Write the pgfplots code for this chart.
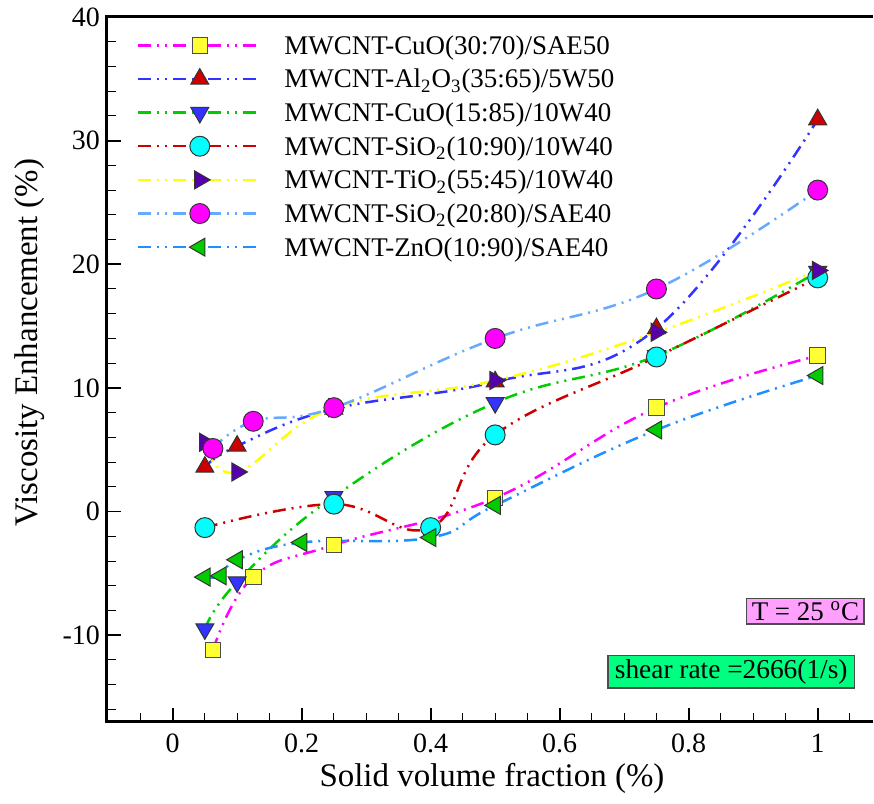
\documentclass[border=0pt]{standalone}
\usepackage{pgfplots}
\pgfplotsset{compat=1.18}
\usepackage{fontspec}
\setmainfont{Liberation Serif}

\definecolor{c1line}{RGB}{255,0,255}
\definecolor{c1mark}{RGB}{255,255,51}
\definecolor{c2line}{RGB}{51,51,255}
\definecolor{c2mark}{RGB}{204,0,0}
\definecolor{c3line}{RGB}{0,204,0}
\definecolor{c3mark}{RGB}{51,51,255}
\definecolor{c4line}{RGB}{204,0,0}
\definecolor{c4mark}{RGB}{0,255,255}
\definecolor{c5line}{RGB}{255,255,0}
\definecolor{c5mark}{RGB}{85,0,170}
\definecolor{c6line}{RGB}{102,170,255}
\definecolor{c6mark}{RGB}{255,0,255}
\definecolor{c7line}{RGB}{30,144,255}
\definecolor{c7mark}{RGB}{0,204,0}
\definecolor{boxpink}{RGB}{255,160,255}
\definecolor{boxgreen}{RGB}{0,255,128}

\tikzset{ddot/.style={dash pattern=on 6.5pt off 3pt on 1pt off 3pt on 1pt off 3pt, line width=1.25pt}}

\begin{document}
\begin{tikzpicture}
\begin{axis}[
  name=ax,
  scale only axis, width=383.5pt, height=353pt,
  xmin=-0.102, xmax=1.085, ymin=-17, ymax=40,
  axis line style={draw=none},
  xtick={0,0.2,0.4,0.6,0.8,1},
  ytick={-10,0,10,20,30,40},
  minor xtick={-0.05,0.05,0.1,0.15,0.25,0.3,0.35,0.45,0.5,0.55,0.65,0.7,0.75,0.85,0.9,0.95,1.05},
  minor ytick={-16,-14,-12,-8,-6,-4,-2,2,4,6,8,12,14,16,18,22,24,26,28,32,34,36,38},
  tick align=inside, xtick pos=left, ytick pos=left,
  major tick length=7pt, minor tick length=4.5pt,
  every major tick/.style={black, line width=0.9pt},
  every minor tick/.style={black, line width=0.5pt},
  tick label style={font=\fontsize{14}{16}\selectfont},
  /pgf/number format/assume math mode=true,
  xticklabel style={yshift=-2.5pt},
  xlabel={Solid volume fraction (\%)},
  ylabel={Viscosity Enhancement (\%)},
  every axis x label/.style={at={(axis description cs:0.503,0)}, anchor=center, yshift=-28.5pt, font=\fontsize{16.5}{18}\selectfont},
  every axis y label/.style={at={(axis description cs:0,0.538)}, anchor=center, rotate=90, yshift=38.5pt, font=\fontsize{16.5}{18}\selectfont},
  legend style={at={(0,1)}, anchor=north west, xshift=15pt, yshift=-7pt, draw=none, fill=none, inner sep=0pt,
    row sep=2.85pt, column sep=11pt, font=\fontsize{13.5}{15}\selectfont,
    nodes={inner sep=0pt, text height=11.5pt, text depth=2.5pt}},
  legend cell align=left,
  legend image code/.code={
    \path[draw=none, fill=none] (0pt,-6pt) rectangle (61.5pt,6pt);
    \draw[mark repeat=2,mark phase=2,#1] plot coordinates {(0pt,0pt) (30.75pt,0pt) (61.5pt,0pt)};},
  every axis plot/.append style={smooth, tension=0.7},
]
\addplot[ddot, c1line, mark=square*, mark size=3.9pt, mark options={solid, draw=black!70, line width=0.5pt, fill=c1mark}]
  coordinates {(0.0625,-11.2) (0.125,-5.3) (0.25,-2.7) (0.5,1.1) (0.75,8.4) (1,12.6)};
\addlegendentry{MWCNT-CuO(30:70)/SAE50}
\addplot[ddot, c2line, mark=triangle*, mark size=5.2pt, mark options={solid, draw=black!80, line width=0.5pt, fill=c2mark}]
  coordinates {(0.05,3.6) (0.1,5.3) (0.25,8.3) (0.5,10.5) (0.75,14.8) (1,31.7)};
\addlegendentry{MWCNT-Al\textsubscript{2}O\textsubscript{3}(35:65)/5W50}
\addplot[ddot, c3line, mark=triangle*, mark size=5.2pt, mark options={solid, rotate=180, draw=black!80, line width=0.5pt, fill=c3mark}]
  coordinates {(0.05,-9.5) (0.1,-5.7) (0.25,1.2) (0.5,8.8) (0.75,12.6) (1,19.4)};
\addlegendentry{MWCNT-CuO(15:85)/10W40}
\addplot[ddot, c4line, mark=*, mark size=5pt, mark options={solid, draw=black!80, line width=0.5pt, fill=c4mark}]
  coordinates {(0.05,-1.3) (0.25,0.6) (0.4,-1.3) (0.5,6.2) (0.75,12.5) (1,18.9)};
\addlegendentry{MWCNT-SiO\textsubscript{2}(10:90)/10W40}
\addplot[ddot, c5line, mark=triangle*, mark size=5.2pt, mark options={solid, rotate=-90, draw=black!80, line width=0.5pt, fill=c5mark}]
  coordinates {(0.05,5.6) (0.1,3.2) (0.25,8.4) (0.5,10.6) (0.75,14.5) (1,19.5)};
\addlegendentry{MWCNT-TiO\textsubscript{2}(55:45)/10W40}
\addplot[ddot, c6line, mark=*, mark size=5pt, mark options={solid, draw=black!80, line width=0.5pt, fill=c6mark}]
  coordinates {(0.0625,5.1) (0.125,7.3) (0.25,8.4) (0.5,14.0) (0.75,18.0) (1,26.0)};
\addlegendentry{MWCNT-SiO\textsubscript{2}(20:80)/SAE40}
\addplot[ddot, c7line, mark=triangle*, mark size=5.2pt, mark options={solid, rotate=90, draw=black!80, line width=0.5pt, fill=c7mark}]
  coordinates {(0.05,-5.3) (0.075,-5.2) (0.1,-3.9) (0.2,-2.5) (0.4,-2.1) (0.5,0.5) (0.75,6.6) (1,11.0)};
\addlegendentry{MWCNT-ZnO(10:90)/SAE40}

\node[draw=black!70, fill=boxpink, line width=0.6pt, inner xsep=2.5pt, inner ysep=1.5pt, font=\fontsize{13.5}{15}\selectfont]
  at (axis cs:0.981,-8.06) {T = 25 \textsuperscript{o}C};
\node[draw=black!70, fill=boxgreen, line width=0.6pt, inner xsep=3.5pt, inner ysep=2pt, font=\fontsize{13.7}{15}\selectfont]
  at (axis cs:0.866,-12.94) {shear rate =2666(1/s)};
\end{axis}
\draw[line width=1.5pt, line join=miter] (ax.north east) -- (ax.north west) -- (ax.south west) -- (ax.south east);
\path ([shift={(-53.5pt,-41pt)}]ax.south west) rectangle ([shift={(0pt,8.5pt)}]ax.north east);
\end{tikzpicture}
\end{document}
